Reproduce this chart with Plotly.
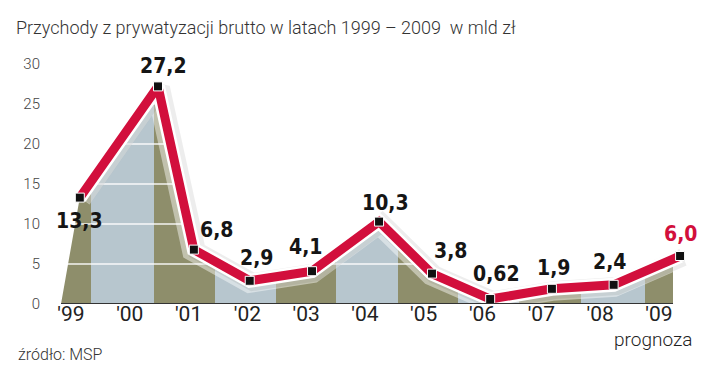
import plotly.graph_objects as go

# ---- data ----
years = [1999, 2000, 2001, 2002, 2003, 2004, 2005, 2006, 2007, 2008, 2009]
values = [13.3, 27.2, 6.8, 2.9, 4.1, 10.3, 3.8, 0.62, 1.9, 2.4, 6.0]
tick_labels = ["'99", "'00", "'01", "'02", "'03", "'04", "'05", "'06", "'07", "'08", "'09"]
y_ticks = [0, 5, 10, 15, 20, 25, 30]
title_text = "Przychody z prywatyzacji brutto w latach 1999 – 2009  w mld zł"
source_text = "źródło: MSP"
forecast_text = "prognoza"

# ---- layout helpers (positions / styles) ----
point_shift = [0.15, 0.48, 0.09, 0.04, 0.10, 0.24, 0.14, 0.13, 0.18, 0.23, 0.36]
band_edges = [1998.83, 1999.34, 2000.41, 2001.45, 2002.49, 2003.51, 2004.56,
              2005.58, 2006.62, 2007.67, 2008.76, 2009.24]
label_offsets = [(0, -23), (5, 20), (23, 20), (7, 23), (-7, 24), (6, 19),
                 (19, 23), (6, 25), (2, 21), (-4, 23), (0, 22)]

OLIVE = "#8e8e6b"
BLUE = "#b7c6ce"
RED = "#d20f3c"
X_RANGE = [1998.83, 2009.92]
Y_RANGE = [0, 31.5]
LIGHT = "Roboto"
BOLD = "DejaVu Sans Condensed"

xs = [y + s for y, s in zip(years, point_shift)]

# stepped colorscale for stripes
g_start = band_edges[0]
g_stop = band_edges[-1] + 0.4
span = g_stop - g_start
cs = []
for i in range(len(band_edges) - 1):
    c = OLIVE if i % 2 == 0 else BLUE
    a = (band_edges[i] - g_start) / span
    b = (band_edges[i + 1] - g_start) / span
    cs.append([a, c])
    cs.append([b, c])
end_n = (band_edges[-1] - g_start) / span
cs.append([end_n, "#ffffff"])
cs.append([1.0, "#ffffff"])

fig = go.Figure()

# striped area
fig.add_trace(go.Scatter(
    x=[band_edges[0]] + xs, y=[0] + values,
    mode="lines", line=dict(width=0), fill="tozeroy",
    fillgradient=dict(type="horizontal", start=g_start, stop=g_stop, colorscale=cs),
    hoverinfo="skip", showlegend=False))

# white gridlines over the area
for gv in y_ticks[1:]:
    fig.add_trace(go.Scatter(
        x=[band_edges[0], band_edges[-1]], y=[gv, gv], mode="lines",
        line=dict(color="rgba(255,255,255,0.9)", width=1.5),
        hoverinfo="skip", showlegend=False))

# soft white glow below line
fig.add_trace(go.Scatter(x=xs, y=values, mode="lines",
                         line=dict(color="rgba(255,255,255,0.45)", width=24),
                         hoverinfo="skip", showlegend=False))

# shadow
fig.add_trace(go.Scatter(x=[x + 0.05 for x in xs], y=[v - 0.15 for v in values],
                         mode="lines", line=dict(color="rgba(0,0,0,0.07)", width=18),
                         hoverinfo="skip", showlegend=False))

# white outline + red line
fig.add_trace(go.Scatter(x=xs, y=values, mode="lines",
                         line=dict(color="white", width=14),
                         hoverinfo="skip", showlegend=False))
fig.add_trace(go.Scatter(x=xs, y=values, mode="lines",
                         line=dict(color=RED, width=9),
                         hoverinfo="skip", showlegend=False))
# markers
fig.add_trace(go.Scatter(x=xs, y=values, mode="markers",
                         marker=dict(symbol="square", size=9, color="#111111",
                                     line=dict(color="white", width=1)),
                         cliponaxis=False, hoverinfo="skip", showlegend=False))

# value labels
for x, v, (dx, dy), i in zip(xs, values, label_offsets, range(len(values))):
    txt = f"{v}".replace(".", ",")
    col = RED if i == len(values) - 1 else "#151515"
    fig.add_annotation(x=x, y=v, text=f"<b>{txt}</b>", showarrow=False,
                       xshift=dx, yshift=dy, xanchor="center", yanchor="middle",
                       font=dict(family=BOLD, size=21, color=col))

# baseline
fig.add_shape(type="line", xref="x", yref="y", x0=band_edges[0], x1=band_edges[-1],
              y0=0, y1=0, line=dict(color="#333333", width=2), layer="above")

# texts
fig.add_annotation(xref="paper", yref="paper", x=-0.069, y=-0.2, xanchor="left",
                   yanchor="middle", text=source_text, showarrow=False,
                   font=dict(family=LIGHT, size=16, color="#333333", weight=300))
fig.add_annotation(xref="x", yref="paper", x=years[-1], y=-0.14, xanchor="center",
                   xshift=-6, yanchor="middle", text=forecast_text, showarrow=False,
                   font=dict(family=LIGHT, size=19, color="#222222", weight=300))

fig.update_layout(
    width=720, height=365,
    margin=dict(l=53, r=15, t=44, b=69),
    paper_bgcolor="white", plot_bgcolor="white",
    title=dict(text=title_text, x=0.011, xanchor="left", xref="container",
               y=0.945, yanchor="middle", yref="container",
               font=dict(family=LIGHT, size=18, color="#333333", weight=300)),
    xaxis=dict(range=X_RANGE, tickvals=years, ticktext=tick_labels,
               showgrid=False, zeroline=False, showline=False, ticks="",
               ticklabelstandoff=-5,
               tickfont=dict(family=LIGHT, size=21, color="#222222")),
    yaxis=dict(range=Y_RANGE, tickvals=y_ticks, showgrid=False, zeroline=False,
               showline=False, ticks="", ticklabelstandoff=20,
               tickfont=dict(family=LIGHT, size=15, color="#444444", weight=300)),
)

fig.write_html("out.html")
